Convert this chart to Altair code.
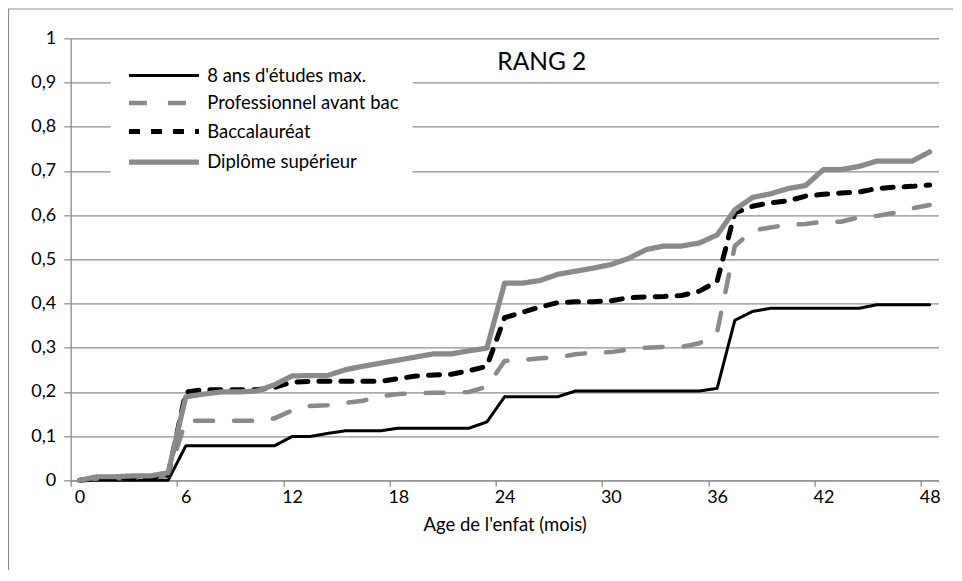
import altair as alt
import pandas as pd

months = list(range(49))
series_names = ["8 ans d'études max.", "Professionnel avant bac", "Baccalauréat", "Diplôme supérieur"]

huit_ans = [0, 0, 0, 0, 0, 0,
            0.078, 0.078, 0.078, 0.078, 0.078, 0.078,
            0.099, 0.099, 0.106, 0.112, 0.112, 0.112,
            0.118, 0.118, 0.118, 0.118, 0.118, 0.132,
            0.189, 0.189, 0.189, 0.189, 0.202, 0.202, 0.202, 0.202, 0.202, 0.202, 0.202, 0.202,
            0.208, 0.362, 0.382, 0.389, 0.389, 0.389, 0.389, 0.389, 0.389, 0.397, 0.397, 0.397, 0.397]
pro_avant_bac = [0, 0.004, 0.004, 0.006, 0.006, 0.01,
                 0.135, 0.135, 0.135, 0.135, 0.135,
                 0.14, 0.158, 0.168, 0.17, 0.175, 0.18, 0.19,
                 0.195, 0.197, 0.198, 0.198, 0.2, 0.212,
                 0.27, 0.272, 0.276, 0.278, 0.285, 0.289, 0.29, 0.296, 0.3, 0.302, 0.302, 0.31,
                 0.335, 0.53, 0.565, 0.572, 0.578, 0.58, 0.585, 0.585, 0.595, 0.598, 0.605, 0.615, 0.623]
baccalaureat = [0, 0.004, 0.004, 0.006, 0.006, 0.012,
                0.2, 0.205, 0.205, 0.205, 0.205,
                0.21, 0.222, 0.224, 0.224, 0.224, 0.224, 0.224,
                0.23, 0.236, 0.238, 0.24, 0.248, 0.258,
                0.368, 0.38, 0.392, 0.402, 0.404, 0.404, 0.406, 0.413, 0.415, 0.416, 0.418, 0.428,
                0.45, 0.605, 0.62, 0.628, 0.632, 0.643, 0.647, 0.65, 0.652, 0.66, 0.663, 0.665, 0.668]
diplome_sup = [0, 0.008, 0.008, 0.01, 0.01, 0.017,
               0.189, 0.195, 0.2, 0.2, 0.202, 0.216,
               0.236, 0.237, 0.237, 0.25, 0.258, 0.265,
               0.272, 0.279, 0.286, 0.286, 0.293, 0.299,
               0.446, 0.446, 0.452, 0.466, 0.473, 0.48, 0.488, 0.502, 0.522, 0.53, 0.53, 0.537,
               0.555, 0.612, 0.64, 0.648, 0.66, 0.667, 0.703, 0.703, 0.71, 0.722, 0.722, 0.722, 0.743]

x_tick_labels = [0, 6, 12, 18, 24, 30, 36, 42, 48]
y_ticks = [0, 0.1, 0.2, 0.3, 0.4, 0.5, 0.6, 0.7, 0.8, 0.9, 1]
series_colors = ["#000000", "#8a8a8a", "#000000", "#8a8a8a"]
series_dash = [[1, 0], [18, 21], [11, 11], [1, 0]]
series_width = [3, 4.5, 5, 5.2]

annot_text = ["RANG 2"]
annot_x = [26.1]
annot_y = [0.943]

rows = []
for name, vals in zip(series_names, [huit_ans, pro_avant_bac, baccalaureat, diplome_sup]):
    for m, v in zip(months, vals):
        rows.append({"month": m, "value": v, "serie": name})
df = pd.DataFrame(rows)

GRAY = "#8e8e8e"
FONT = "Lato"

# ticks sit between categories (Excel category axis); labels shifted half a category
tick_positions = [t - 0.5 for t in x_tick_labels]

W, H = 867.8, 442
half_cat = W / 49 / 2

# long horizontal line symbol (70 px with symbolSize 100 -> r = 5)
LEG_SYMBOL = "M-1,0H13"

leg = alt.Legend(title=None, orient="none", legendX=40, legendY=14,
                 symbolType=LEG_SYMBOL, symbolSize=100, labelFont=FONT, labelFontSize=18.5,
                 labelColor="black", fillColor="white", padding=14, rowPadding=8.5,
                 labelOffset=64, labelLimit=0)

lines = alt.Chart(df).mark_line(strokeCap="round", strokeJoin="round").encode(
    x=alt.X("month:Q",
            scale=alt.Scale(domain=[-0.5, 48.5], nice=False, zero=False),
            axis=alt.Axis(values=tick_positions,
                          labelExpr="format(datum.value + 0.5, 'd')",
                          labelOffset=half_cat, labelFlush=False, labelOverlap=False,
                          tickSize=6, grid=False, title="Age de l'enfat (mois)",
                          labelPadding=2, titlePadding=9)),
    y=alt.Y("value:Q",
            scale=alt.Scale(domain=[0, 1], nice=False, zero=True),
            axis=alt.Axis(values=y_ticks,
                          labelExpr="replace(format(datum.value, '.1~f'), '.', ',')",
                          tickSize=7, labelPadding=8, grid=True, title=None)),
    color=alt.Color("serie:N", scale=alt.Scale(domain=series_names, range=series_colors), legend=leg),
    strokeDash=alt.StrokeDash("serie:N", scale=alt.Scale(domain=series_names, range=series_dash), legend=leg),
    strokeWidth=alt.StrokeWidth("serie:O", scale=alt.Scale(type="ordinal", domain=series_names, range=series_width), legend=leg),
    order=alt.Order("month:Q"),
)

annot = alt.Chart(pd.DataFrame({"t": annot_text, "x": annot_x, "y": annot_y})).mark_text(
    font=FONT, fontSize=24.5, color="black", align="center", baseline="middle"
).encode(x="x:Q", y="y:Q", text="t:N")

border = alt.Chart(pd.DataFrame({"a": [0]})).mark_rect(
    fillOpacity=0, stroke=GRAY, strokeWidth=1.2
).encode(x=alt.value(-62.2), x2=alt.value(1000), y=alt.value(-29.3), y2=alt.value(700))

chart = alt.layer(border, lines, annot).properties(
    width=W, height=H,
    autosize=alt.AutoSizeParams(type="none"),
    padding={"left": 62.7, "top": 30.3, "right": 14, "bottom": 90},
).configure_view(stroke=None).configure_axis(
    domainColor=GRAY, domainWidth=1.3, tickColor=GRAY, tickWidth=1.3,
    gridColor=GRAY, gridWidth=1.3,
    labelFont=FONT, labelFontSize=18, labelColor="black",
    titleFont=FONT, titleFontSize=18.5, titleFontWeight="normal", titleColor="black",
)

chart.save("out.html", embed_options={"renderer": "svg", "actions": False})
